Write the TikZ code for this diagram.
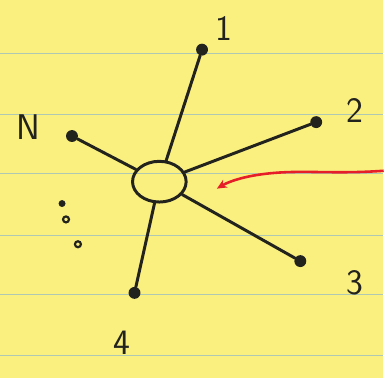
\documentclass[tikz,border=0pt]{standalone}
\usepackage{xcolor}
\definecolor{padyellow}{RGB}{250, 240, 128}
\definecolor{padrule}{RGB}{175, 200, 180}
\definecolor{inkblack}{RGB}{35, 35, 30}
\definecolor{inkred}{RGB}{230, 30, 40}
\usepackage{tikz}
\usetikzlibrary{shapes.geometric,arrows.meta}

\begin{document}
\begin{tikzpicture}[
  x=1pt, y=-1pt,
  hub/.style={ellipse, draw=inkblack, line width=3pt, minimum width=54pt, minimum height=41pt, inner sep=0pt},
  dot/.style={circle, fill=inkblack, inner sep=0pt, minimum size=12pt},
  spoke/.style={draw=inkblack, line width=3pt, line cap=round},
  lbl/.style={text=inkblack, font=\fontsize{36}{36}\selectfont\sffamily, inner sep=0pt}
]
  % Paper
  \fill[padyellow] (0,0) rectangle (385,381);
  \foreach \y in {54,115,175,237,297,358} {
    \draw[padrule, line width=1pt] (0,\y) -- (385,\y);
  }

  % Hub
  \node[hub] (c) at (160,183) {};

  % Endpoints
  \node[dot] (p1) at (203,50)  {};
  \node[dot] (p2) at (318,123) {};
  \node[dot] (p3) at (302,263) {};
  \node[dot] (p4) at (135,295) {};
  \node[dot] (pN) at (72,137)  {};

  % Labels
  \node[lbl] (l1) at (225,29)  {1};
  \node[lbl] (l2) at (357,111) {2};
  \node[lbl] (l3) at (357,285) {3};
  \node[lbl] (l4) at (122,345) {4};
  \node[lbl] (lN) at (28,128)  {N};

  % Spokes
  \foreach \n in {p1,p2,p3,p4,pN} {
    \draw[spoke] (c) -- (\n);
  }

  % Ellipsis dots
  \node[circle, fill=inkblack, inner sep=0pt, minimum size=7pt] (e1) at (62,205) {};
  \node[circle, draw=inkblack, line width=2.2pt, inner sep=0pt, minimum size=6pt] (e2) at (66,221) {};
  \node[circle, draw=inkblack, line width=2.2pt, inner sep=0pt, minimum size=6pt] (e3) at (78,246) {};

  % Incoming arrow
  \coordinate (rtail) at (386,172);
  \coordinate (rtip) at (218,190);
  \draw[inkred, line width=2.6pt, -{Stealth[length=10pt, width=9pt]}]
    (rtail) .. controls (330,176) and (300,170) .. (260,176)
    .. controls (240,179) and (228,184) .. (rtip);
\end{tikzpicture}
\end{document}
